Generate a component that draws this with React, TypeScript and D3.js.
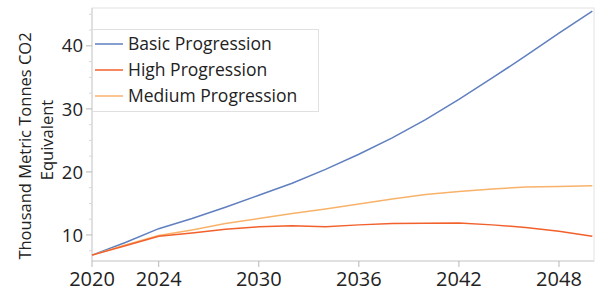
import React from "react";
import * as d3 from "d3";

const years = [2020, 2022, 2024, 2026, 2028, 2030, 2032, 2034, 2036, 2038, 2040, 2042, 2044, 2046, 2048, 2050];
const basic = [6.8, 8.8, 11.0, 12.6, 14.4, 16.3, 18.2, 20.4, 22.8, 25.4, 28.3, 31.5, 34.9, 38.4, 42.0, 45.5];
const high = [6.8, 8.3, 9.8, 10.3, 10.9, 11.3, 11.45, 11.3, 11.6, 11.8, 11.85, 11.9, 11.6, 11.2, 10.6, 9.8];
const medium = [6.8, 8.4, 9.9, 10.8, 11.8, 12.6, 13.4, 14.1, 14.9, 15.7, 16.4, 16.9, 17.3, 17.6, 17.7, 17.8];
const seriesNames = ["Basic Progression", "High Progression", "Medium Progression"];
const seriesColors = ["#5f7fbf", "#f2602c", "#f8b26a"];
const xTicks = [2020, 2024, 2030, 2036, 2042, 2048];
const yTicks = [10, 20, 30, 40];
const yTitle = ["Thousand Metric Tonnes CO2", "Equivalent"];

const W = 600, H = 293;
const L = 92, R = 594, T = 8, B = 261;
const FONT = "'Open Sans', 'Noto Sans', sans-serif";

export default function App() {
  const x = d3.scaleLinear().domain([2020, 2050.1]).range([L, R]);
  const y = d3.scaleLinear().domain([5.87, 46]).range([B, T]);
  const line = d3.line<number>().x((_, i) => x(years[i])).y((d) => y(d));
  const series = [basic, high, medium];
  const minorY = d3.range(7.5, 46, 2.5).filter((v) => v % 10 !== 0);
  const legendRows = [44, 70, 96];
  return (
    <svg width={W} height={H} style={{ position: "absolute", left: 0, top: 0, background: "#fff" }}>
      <rect x={L} y={T} width={R - L} height={B - T} fill="none" stroke="#e2e2e2" strokeWidth={1} />
      {/* y axis */}
      <line x1={L} x2={L} y1={T} y2={B} stroke="#d0d0d0" />
      {minorY.map((v) => (
        <line key={"m" + v} x1={L - 3} x2={L} y1={y(v)} y2={y(v)} stroke="#d8d8d8" />
      ))}
      {yTicks.map((v) => (
        <g key={"y" + v}>
          <line x1={L - 6} x2={L} y1={y(v)} y2={y(v)} stroke="#b8b8b8" />
          <text x={L - 9} y={y(v)} dy="0.36em" textAnchor="end" fontFamily={FONT} fontSize={18.5} fill="#222">
            {v}
          </text>
        </g>
      ))}
      {/* x axis */}
      <line x1={L} x2={R} y1={B} y2={B} stroke="#d0d0d0" />
      {xTicks.map((v) => (
        <g key={"x" + v}>
          <line x1={x(v)} x2={x(v)} y1={B} y2={B + 6} stroke="#b8b8b8" />
          <text x={x(v)} y={286} textAnchor="middle" fontFamily={FONT} fontSize={20} fill="#222">
            {v}
          </text>
        </g>
      ))}
      {/* y title */}
      <text transform={`translate(31,${146}) rotate(-90)`} textAnchor="middle" fontFamily={FONT} fontSize={16.5} fill="#222">
        {yTitle[0]}
      </text>
      <text transform={`translate(53,${140}) rotate(-90)`} textAnchor="middle" fontFamily={FONT} fontSize={16.5} fill="#222">
        {yTitle[1]}
      </text>
      {/* lines */}
      {[0, 2, 1].map((si) => (
        <path key={si} d={line(series[si]) || ""} fill="none" stroke={seriesColors[si]} strokeWidth={1.5} />
      ))}
      {/* legend */}
      <rect x={L + 0.5} y={29.5} width={226} height={82} fill="#fff" stroke="#e0e0e0" />
      {seriesNames.map((n, i) => (
        <g key={n}>
          <line x1={95} x2={123} y1={legendRows[i]} y2={legendRows[i]} stroke={seriesColors[i]} strokeWidth={1.5} />
          <text x={128} y={legendRows[i]} dy="0.36em" fontFamily={FONT} fontSize={17.5} fill="#222">
            {n}
          </text>
        </g>
      ))}
    </svg>
  );
}
